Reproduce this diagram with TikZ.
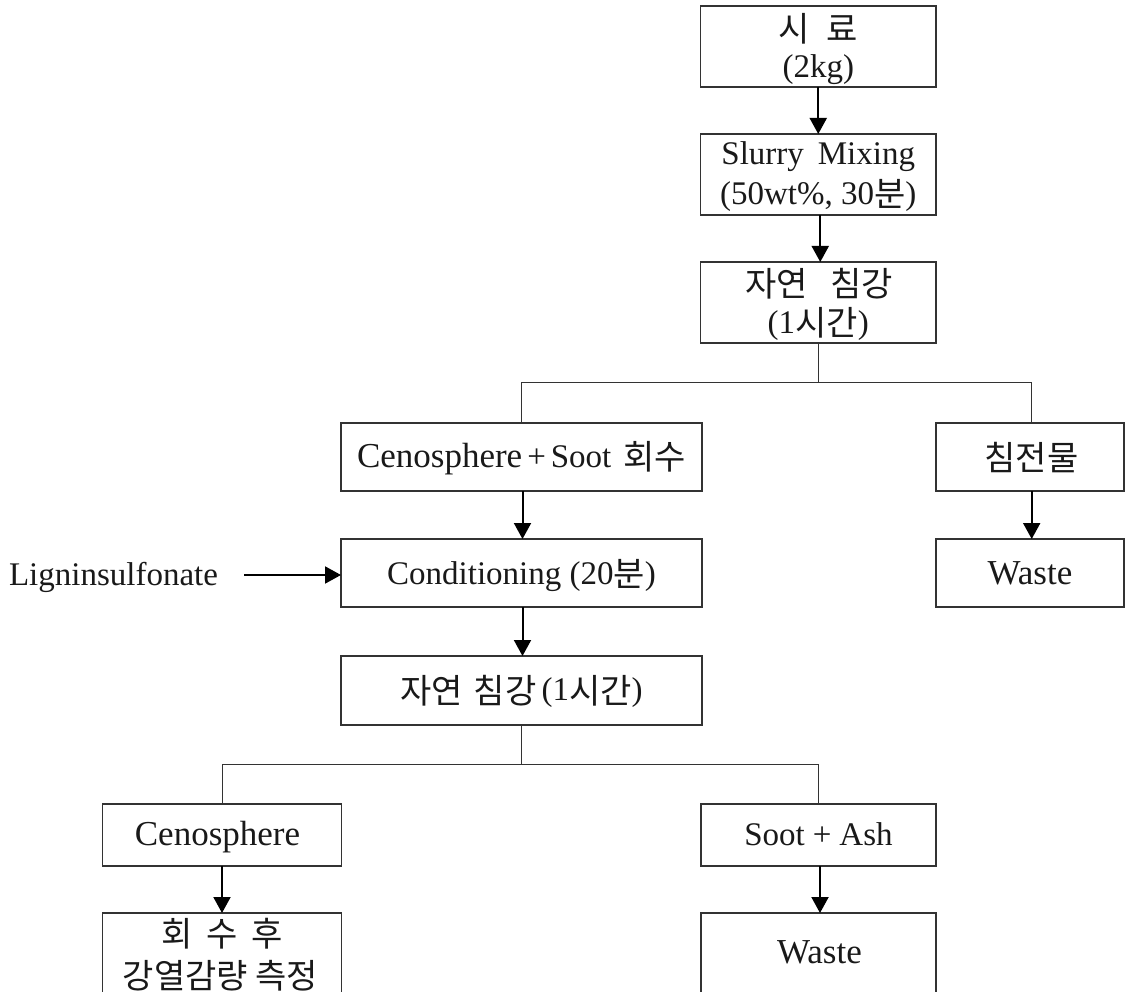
\documentclass[tikz,border=0pt]{standalone}
\usepackage{fontspec}
\setmainfont{Liberation Serif}
\newfontfamily\krf{Noto Sans CJK KR}
\newcommand{\kr}[1]{\raisebox{-2.5pt}{\krf\fontsize{34}{41}\selectfont #1}}
\newcommand{\ta}[3][0pt]{\makebox[0pt]{\hspace*{#1}\hspace*{#1}\raisebox{-#2}[0pt][0pt]{#3}}}
\newcommand{\lgt}[1]{{\fontsize{35}{41}\selectfont #1}}
\usetikzlibrary{arrows.meta}
\tikzset{
  x=1pt,y=-1pt,
  boxn/.style={draw=black!80,line width=1.1pt,inner sep=0pt,outer sep=0pt,text=black!90,
    font=\fontsize{33}{41}\selectfont},
  flow/.style={draw=black,line width=2pt,-{Triangle[length=16pt,width=17pt]}},
  tree/.style={draw=black!80,line width=1pt},
}
\begin{document}
\begin{tikzpicture}
\useasboundingbox (0,0) rectangle (1125,992);
\node[boxn,minimum width=235.5pt,minimum height=81pt] (a) at (818.25,46.5)
  {\ta{-7.5pt}{\kr{시}\hspace{16pt}\kr{료}}\ta{31.5pt}{(2kg)}};
\node[boxn,minimum width=235.5pt,minimum height=81pt] (b) at (818.25,174.5)
  {\ta{-10pt}{Slurry\hspace{14pt}Mixing}\ta{30pt}{(50wt\%, 30\kr{분})}};
\node[boxn,minimum width=235.5pt,minimum height=81pt] (c) at (818.25,302.5)
  {\ta[1pt]{-8.5pt}{\kr{자연}\hspace{22pt}\kr{침강}}\ta{31pt}{(1\kr{시간})}};
\node[boxn,minimum width=361pt,minimum height=68pt] (d) at (521.5,457)
  {\ta{10pt}{\lgt{Cenosphere}\hspace{5pt}+\hspace{5pt}Soot\hspace{12pt}\kr{회수}}};
\node[boxn,minimum width=188pt,minimum height=68pt] (e) at (1030,457)
  {\ta[1.5pt]{10.5pt}{\kr{침전물}}};
\node[boxn,minimum width=361pt,minimum height=68pt] (f) at (521.5,573)
  {\ta{11pt}{Conditioning (20\kr{분})}};
\node[boxn,minimum width=188pt,minimum height=68pt] (g) at (1030,573)
  {\ta{11pt}{\lgt{Waste}}};
\node[boxn,minimum width=361pt,minimum height=69pt] (h) at (521.5,690.5)
  {\ta{10pt}{\kr{자연}\hspace{11pt}\kr{침강}\hspace{5pt}(1\kr{시간})}};
\node[boxn,minimum width=239pt,minimum height=62pt] (i) at (222,835)
  {\ta[-4.5pt]{10pt}{\lgt{Cenosphere}}};
\node[boxn,minimum width=235pt,minimum height=62pt] (j) at (818.5,835)
  {\ta{10pt}{Soot\hspace{8pt}+\hspace{8pt}Ash}};
\node[boxn,minimum width=239pt,minimum height=90pt] (k) at (222,958)
  {\ta{-14.5pt}{\kr{회}\hspace{14pt}\kr{수}\hspace{14pt}\kr{후}}\ta[-1.5pt]{27.5pt}{\kr{강열감량 측정}}};
\node[boxn,minimum width=235pt,minimum height=90pt] (l) at (818.5,958)
  {\ta[1pt]{5pt}{\lgt{Waste}}};
\node[inner sep=0pt,text=black!90,font=\fontsize{33}{41}\selectfont] (lig) at (113.5,577) {Ligninsulfonate};
\coordinate (ls) at (244,575);
\coordinate (j1) at (818.25,382.5);
\coordinate (j2) at (521.5,764.5);
\draw[flow] (a.south) -- (b.north);
\draw[flow] ([xshift=2pt]b.south) -- ([xshift=2pt]c.north);
\draw[tree] (c.south) -- (j1);
\draw[tree] (d.north) |- (j1) -| ([xshift=1.7pt]e.north);
\draw[flow] ([xshift=1pt]d.south) -- ([xshift=1pt]f.north);
\draw[flow] ([xshift=1.7pt]e.south) -- ([xshift=1.7pt]g.north);
\draw[flow] (ls) -- ([yshift=-2pt]f.west);
\draw[flow] ([xshift=1pt]f.south) -- ([xshift=1pt]h.north);
\draw[tree] (h.south) -- (j2);
\draw[tree] (i.north) |- (j2) -| (j.north);
\draw[flow] (i.south) -- (k.north);
\draw[flow] ([xshift=1.5pt]j.south) -- ([xshift=1.5pt]l.north);
\end{tikzpicture}
\end{document}
